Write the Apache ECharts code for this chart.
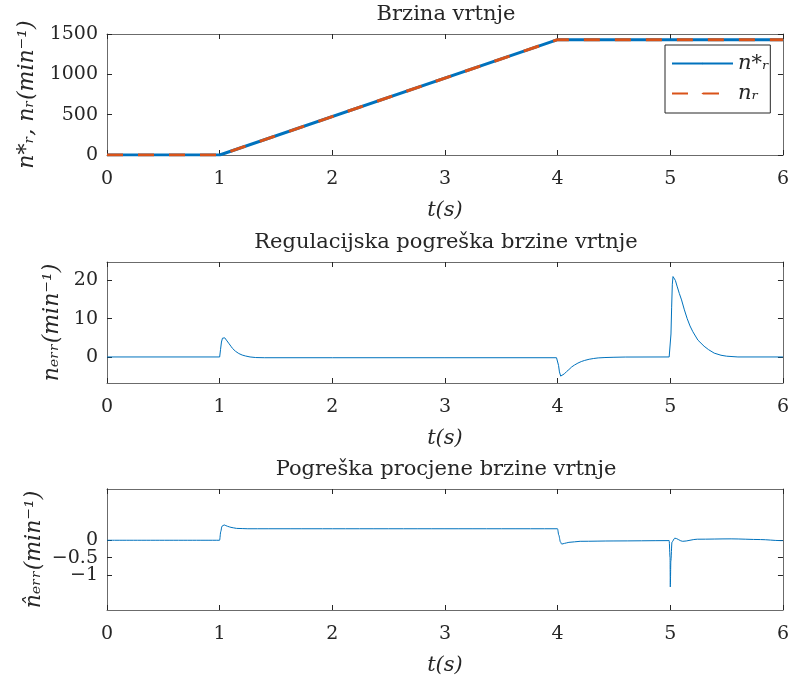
<!DOCTYPE html>
<html>
<head>
<meta charset="utf-8">
<script src="https://cdn.jsdelivr.net/npm/echarts@6/dist/echarts.min.js"></script>
<style>
  html, body { margin: 0; padding: 0; background: #fff; }
  #main { width: 792px; height: 679px; }
</style>
</head>
<body>
<div id="main"></div>
<script>
// speed reference / measured (min^-1)
var tSpeed = [0, 1, 4, 6];
var nRef = [0, 0, 1430, 1430];
var nMeas = [0, 0, 1430, 1430];

// regulation error
var tErr = [0, 1.0, 1.008, 1.016, 1.025, 1.033, 1.045, 1.06, 1.08, 1.1, 1.115, 1.14, 1.17, 1.2, 1.23, 1.27, 1.32, 1.4, 2, 3, 3.99,
    4.0, 4.008, 4.016, 4.027, 4.04, 4.06, 4.08, 4.1, 4.125, 4.15, 4.18, 4.21, 4.24, 4.28, 4.32, 4.36, 4.42, 4.5, 4.6, 4.99,
    5.0, 5.006, 5.012, 5.018, 5.024, 5.032, 5.045, 5.06, 5.08, 5.1, 5.125, 5.15, 5.175, 5.2, 5.245, 5.3, 5.34, 5.39, 5.45, 5.5, 5.6, 6];
var nErr = [0, 0, 2.0, 3.9, 4.9, 5.3, 5.0, 4.4, 3.6, 2.8, 2.2, 1.5, 0.9, 0.5, 0.25, 0, -0.15, -0.2, -0.2, -0.2, -0.2,
    -0.3, -2.2, -3.9, -5.0, -4.9, -4.4, -3.8, -3.3, -2.6, -2.1, -1.6, -1.2, -0.9, -0.6, -0.4, -0.25, -0.15, -0.08, -0.02, 0,
    0, 6, 13, 19, 21, 20.8, 20.0, 18.5, 16.6, 14.9, 12.3, 10.0, 8.1, 6.6, 4.4, 2.8, 1.9, 1.0, 0.45, 0.2, 0, 0];

// estimation error
var tEst = [0, 0.999, 1.01, 1.02, 1.04, 1.07, 1.1, 1.15, 1.25, 2, 3, 3.999,
    4.01, 4.025, 4.036, 4.06, 4.1, 4.2, 4.5, 4.99, 4.998,
    5.0, 5.005, 5.015, 5.04, 5.11, 5.24, 5.54, 5.8, 5.98, 6];
var estErr = [0, 0, 0.25, 0.4, 0.44, 0.4, 0.37, 0.34, 0.33, 0.33, 0.33, 0.33,
    0.15, -0.05, -0.11, -0.09, -0.06, -0.03, -0.02, -0.01, -0.5,
    -1.34, -0.6, -0.05, 0.06, -0.03, 0.03, 0.04, 0.02, -0.01, -0.01];

var xTicks = [0, 1, 2, 3, 4, 5, 6];
var errTicks = [0, 10, 20];
var estTicks = [-1, -0.5, 0];

function pairs(xs, ys) {
    return xs.map(function (x, i) { return [x, ys[i]]; });
}

var txt = '#262626';
var boxColor = '#6b6b6b';
var serif = 'DejaVu Serif';

function xAx(gi, top) {
    return {
        type: 'value', gridIndex: gi, min: 0, max: 6, interval: 1,
        position: top ? 'top' : 'bottom',
        name: top ? '' : 't(s)',
        nameLocation: 'middle', nameGap: 45,
        nameTextStyle: { fontFamily: serif, fontStyle: 'italic', fontSize: 21, color: txt },
        axisLine: { show: true, onZero: false, lineStyle: { color: boxColor, width: 1 } },
        axisTick: { show: true, inside: true, length: 5, lineStyle: { color: txt } },
        axisLabel: { show: !top, margin: 15, fontFamily: serif, fontSize: 19, color: txt },
        splitLine: { show: false }
    };
}

function yAx(gi, right, cfg, ticks, noName) {
    var a = {
        type: 'value', gridIndex: gi, min: cfg.min, max: cfg.max,
        position: right ? 'right' : 'left',
        name: (right || noName) ? '' : cfg.name,
        nameLocation: 'middle', nameGap: cfg.gap, nameRotate: 90,
        nameTextStyle: { fontFamily: serif, fontStyle: 'italic', fontSize: 22, color: txt },
        axisLine: { show: true, onZero: false, lineStyle: { color: boxColor, width: 1 } },
        axisTick: { show: true, inside: true, length: 5, lineStyle: { color: txt } },
        axisLabel: { show: !right, margin: 9, fontFamily: serif, fontSize: 19, color: txt,
            formatter: function (v) { return String(v).replace('-', '\u2212'); } },
        splitLine: { show: false }
    };
    if (cfg.interval) {
        a.interval = cfg.interval;
    } else {
        a.axisTick.customValues = ticks || cfg.ticks;
        a.axisLabel.customValues = ticks || cfg.ticks;
    }
    return a;
}

var speedCfg = { min: 0, max: 1500, interval: 500, name: 'n*\u1d63, n\u1d63(min\u207b\u00b9)', gap: 62 };
var errCfg = { min: -6.8, max: 24.8, ticks: errTicks, name: 'n\u2091\u1d63\u1d63(min\u207b\u00b9)', gap: 44 };
var estCfg = { min: -2, max: 1.47, ticks: estTicks, name: 'n\u0302\u2091\u1d63\u1d63(min\u207b\u00b9)', gap: 62 };

// the three overlapping labels of the bottom plot each get their own left axis
var estLeft = estTicks.map(function (v, i) {
    return yAx(2, false, estCfg, [v], i > 0);
});

var titleStyle = { fontFamily: serif, fontSize: 21, fontWeight: 'normal', color: txt };

var option = {
    animation: false,
    backgroundColor: '#fff',
    title: [
        { text: 'Brzina vrtnje', left: 446, top: 4, textAlign: 'center', padding: 0, textStyle: titleStyle },
        { text: 'Regulacijska pogreška brzine vrtnje', left: 446, top: 232, textAlign: 'center', padding: 0, textStyle: titleStyle },
        { text: 'Pogreška procjene brzine vrtnje', left: 446, top: 459, textAlign: 'center', padding: 0, textStyle: titleStyle }
    ],
    legend: {
        data: ['n*\u1d63', 'n\u1d63'],
        orient: 'vertical',
        left: 665, top: 45,
        padding: [8, 1, 9, 6],
        itemWidth: 61, itemHeight: 2, itemGap: 9,
        backgroundColor: '#fff',
        borderColor: txt, borderWidth: 1,
        textStyle: { fontFamily: serif, fontStyle: 'italic', fontSize: 21, color: txt }
    },
    grid: [
        { left: 107, right: 7, top: 34, height: 121 },
        { left: 107, right: 7, top: 262, height: 121 },
        { left: 107, right: 7, top: 489, height: 121 }
    ],
    xAxis: [xAx(0, false), xAx(0, true), xAx(1, false), xAx(1, true), xAx(2, false), xAx(2, true)],
    yAxis: [yAx(0, false, speedCfg), yAx(0, true, speedCfg), yAx(1, false, errCfg), yAx(1, true, errCfg),
        estLeft[0], yAx(2, true, estCfg), estLeft[1], estLeft[2]],
    series: [
        {
            name: 'n*\u1d63', type: 'line', xAxisIndex: 0, yAxisIndex: 0,
            data: pairs(tSpeed, nRef), showSymbol: false, symbol: 'none',
            lineStyle: { color: '#0072BD', width: 3 }, itemStyle: { color: '#0072BD' }
        },
        {
            name: 'n\u1d63', type: 'line', xAxisIndex: 0, yAxisIndex: 0,
            data: pairs(tSpeed, nMeas), showSymbol: false, symbol: 'none',
            lineStyle: { color: '#D95319', width: 3, type: [16, 15] }, itemStyle: { color: '#D95319' }
        },
        {
            name: 'err', type: 'line', xAxisIndex: 2, yAxisIndex: 2,
            data: pairs(tErr, nErr), showSymbol: false, symbol: 'none',
            lineStyle: { color: '#0072BD', width: 1 }
        },
        {
            name: 'est', type: 'line', xAxisIndex: 4, yAxisIndex: 4,
            data: pairs(tEst, estErr), showSymbol: false, symbol: 'none',
            smooth: 0.3, smoothMonotone: 'x',
            lineStyle: { color: '#0072BD', width: 1 }
        }
    ]
};

var chart = echarts.init(document.getElementById('main'));
chart.setOption(option);
</script>
</body>
</html>
